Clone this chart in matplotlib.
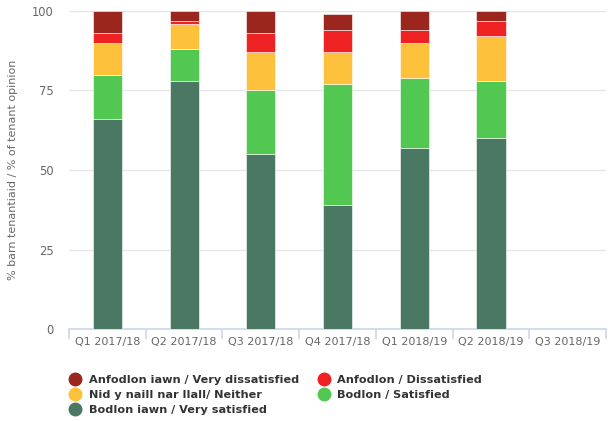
import numpy as np
import matplotlib.pyplot as plt
from matplotlib.lines import Line2D

quarters = ['Q1 2017/18', 'Q2 2017/18', 'Q3 2017/18', 'Q4 2017/18',
            'Q1 2018/19', 'Q2 2018/19', 'Q3 2018/19']
very_satisfied = [66, 78, 55, 39, 57, 60, 0]
satisfied = [14, 10, 20, 38, 22, 18, 0]
neither = [10, 8, 12, 10, 11, 14, 0]
dissatisfied = [3, 1, 6, 7, 4, 5, 0]
very_dissatisfied = [7, 3, 7, 5, 6, 3, 0]

series = [
    ('Bodlon iawn / Very satisfied', very_satisfied, '#4b7862'),
    ('Bodlon / Satisfied', satisfied, '#52c852'),
    ('Nid y naill nar llall/ Neither', neither, '#fdc13b'),
    ('Anfodlon / Dissatisfied', dissatisfied, '#ee2222'),
    ('Anfodlon iawn / Very dissatisfied', very_dissatisfied, '#9a261d'),
]

fig = plt.figure(figsize=(6.08, 4.21), dpi=100)
ax = fig.add_axes([0.1135, 0.2185, 0.8832, 0.7554])

x = np.arange(len(quarters))
bottom = np.zeros(len(quarters))
for name, vals, col in series:
    v = np.array(vals, dtype=float)
    ax.bar(x, v, width=0.38, bottom=bottom, color=col, edgecolor='#ffffff',
           linewidth=0.4, zorder=3)
    bottom += v

ax.set_xlim(-0.5, len(quarters) - 0.5)
ax.set_ylim(0, 100)
ax.set_yticks([0, 25, 50, 75, 100])
ax.yaxis.grid(True, color='#e6e6e6', linewidth=1, zorder=0)
ax.set_axisbelow(True)
for s in ['top', 'right', 'left']:
    ax.spines[s].set_visible(False)
ax.spines['bottom'].set_color('#ccd6eb')
ax.spines['bottom'].set_linewidth(1.2)

ax.set_xticks(x)
ax.set_xticklabels(quarters, fontsize=8, color='#666666')
ax.set_xticks(np.arange(len(quarters) + 1) - 0.5, minor=True)
ax.tick_params(axis='x', which='major', length=0, pad=6)
ax.tick_params(axis='x', which='minor', length=7, color='#ccd6eb', width=1.2)
ax.tick_params(axis='y', length=0, labelsize=8.3, labelcolor='#666666', pad=11)

ax.set_ylabel('% barn tenantiaid / % of tenant opinion', fontsize=8,
              color='#666666')
ax.yaxis.set_label_coords(-0.095, 0.5)

# column-major fill: col 1 = very dissat, neither, very sat; col 2 = dissat, sat
order = [4, 2, 0, 3, 1]
handles = [Line2D([], [], marker='o', linestyle='', markersize=9,
                  color=series[i][2]) for i in order]
labels = [series[i][0] for i in order]
leg = fig.legend(handles, labels, ncol=2, loc='upper left',
                 bbox_to_anchor=(0.098, 0.12), frameon=False,
                 prop={'weight': 'bold', 'size': 8.1},
                 handletextpad=0.2, columnspacing=1.2, labelspacing=0.45,
                 borderaxespad=0)
for t in leg.get_texts():
    t.set_color('#333333')

fig.savefig('out.png', dpi=100)
